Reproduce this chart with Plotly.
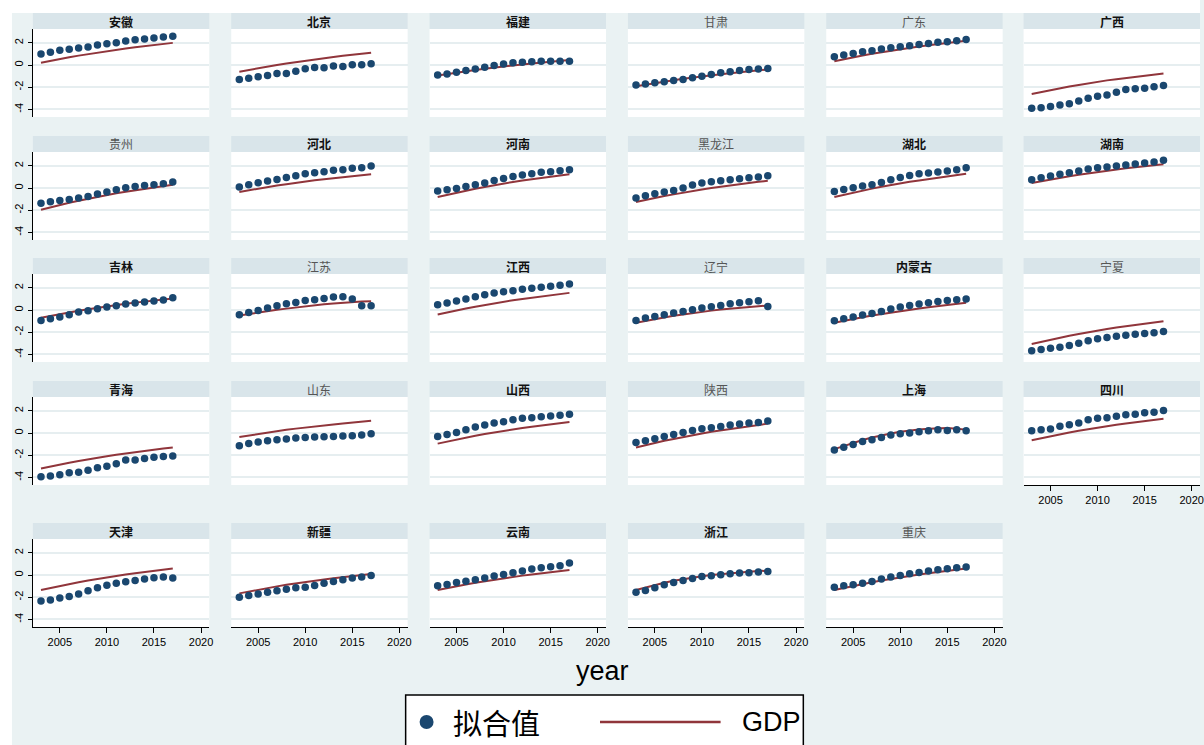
import plotly.graph_objects as go

# ---------------------------------------------------------------- data
years = [2003, 2004, 2005, 2006, 2007, 2008, 2009, 2010,
         2011, 2012, 2013, 2014, 2015, 2016, 2017]

provinces = ["安徽", "北京", "福建", "甘肃", "广东", "广西",
             "贵州", "河北", "河南", "黑龙江", "湖北", "湖南",
             "吉林", "江苏", "江西", "辽宁", "内蒙古", "宁夏",
             "青海", "山东", "山西", "陕西", "上海", "四川",
             "天津", "新疆", "云南", "浙江", "重庆"]

x_ticks = [2005, 2010, 2015, 2020]
y_ticks = [-4, -2, 0, 2]
y_tick_text = ["-4", "-2", "0", "2"]

legend_fit = "拟合值"
legend_gdp = "GDP"
x_title = "year"

# fitted values (dots) and GDP (line), one pair per province
anhui_fit = [1.0, 1.15, 1.33, 1.42, 1.54, 1.63, 1.81, 1.93, 2.02, 2.17, 2.29, 2.35, 2.44, 2.53, 2.59]
anhui_gdp = [0.2, 0.38, 0.54, 0.70, 0.85, 0.99, 1.14, 1.26, 1.39, 1.50, 1.60, 1.71, 1.80, 1.91, 2.0]
beijing_fit = [-1.30, -1.18, -1.06, -0.94, -0.76, -0.76, -0.55, -0.33, -0.21, -0.24, -0.09, -0.12, 0.03, 0.03, 0.12]
beijing_gdp = [-0.6, -0.43, -0.28, -0.12, 0.01, 0.15, 0.28, 0.40, 0.52, 0.62, 0.73, 0.83, 0.91, 1.02, 1.1]
fujian_fit = [-0.9, -0.8, -0.65, -0.5, -0.35, -0.2, -0.05, 0.1, 0.2, 0.25, 0.3, 0.35, 0.35, 0.35, 0.35]
fujian_gdp = [-0.95, -0.81, -0.68, -0.56, -0.45, -0.33, -0.22, -0.12, -0.03, 0.06, 0.14, 0.23, 0.30, 0.38, 0.45]
gansu_fit = [-1.8, -1.7, -1.6, -1.5, -1.4, -1.3, -1.15, -1.0, -0.85, -0.7, -0.6, -0.5, -0.4, -0.35, -0.3]
gansu_gdp = [-1.9, -1.75, -1.62, -1.48, -1.36, -1.24, -1.12, -1.02, -0.91, -0.82, -0.73, -0.64, -0.57, -0.48, -0.4]
guangdong_fit = [0.75, 0.9, 1.05, 1.2, 1.3, 1.45, 1.55, 1.65, 1.75, 1.85, 1.95, 2.05, 2.1, 2.2, 2.3]
guangdong_gdp = [0.35, 0.54, 0.70, 0.87, 1.02, 1.16, 1.31, 1.44, 1.57, 1.68, 1.79, 1.90, 2.00, 2.11, 2.2]
guangxi_fit = [-3.9, -3.85, -3.73, -3.6, -3.48, -3.24, -3.0, -2.82, -2.7, -2.45, -2.2, -2.14, -2.08, -1.96, -1.84]
guangxi_gdp = [-2.6, -2.42, -2.25, -2.08, -1.93, -1.79, -1.64, -1.51, -1.38, -1.27, -1.16, -1.05, -0.95, -0.84, -0.75]
guizhou_fit = [-1.36, -1.24, -1.11, -1.02, -0.9, -0.75, -0.54, -0.36, -0.15, 0.03, 0.15, 0.24, 0.30, 0.39, 0.54]
guizhou_gdp = [-1.95, -1.73, -1.52, -1.32, -1.14, -0.96, -0.78, -0.62, -0.47, -0.33, -0.2, -0.06, 0.05, 0.19, 0.3]
hebei_fit = [0.09, 0.3, 0.48, 0.63, 0.78, 0.96, 1.11, 1.3, 1.39, 1.48, 1.6, 1.66, 1.78, 1.84, 1.99]
hebei_gdp = [-0.35, -0.19, -0.05, 0.10, 0.23, 0.35, 0.48, 0.59, 0.71, 0.80, 0.90, 0.99, 1.07, 1.17, 1.25]
henan_fit = [-0.27, -0.15, -0.03, 0.15, 0.3, 0.45, 0.69, 0.87, 1.05, 1.17, 1.3, 1.42, 1.48, 1.57, 1.66]
henan_gdp = [-0.8, -0.6, -0.41, -0.23, -0.06, 0.10, 0.27, 0.41, 0.55, 0.68, 0.80, 0.92, 1.02, 1.15, 1.25]
heilongjiang_fit = [-0.9, -0.69, -0.51, -0.36, -0.21, 0.0, 0.27, 0.45, 0.57, 0.66, 0.75, 0.84, 0.93, 0.99, 1.11]
heilongjiang_gdp = [-1.25, -1.06, -0.89, -0.72, -0.57, -0.41, -0.26, -0.13, 0.0, 0.12, 0.23, 0.35, 0.44, 0.56, 0.65]
hubei_fit = [-0.3, -0.12, 0.03, 0.18, 0.3, 0.51, 0.75, 0.96, 1.14, 1.3, 1.36, 1.45, 1.54, 1.66, 1.84]
hubei_gdp = [-0.8, -0.6, -0.41, -0.22, -0.05, 0.11, 0.28, 0.42, 0.57, 0.69, 0.82, 0.94, 1.05, 1.17, 1.28]
hunan_fit = [0.75, 0.93, 1.08, 1.24, 1.39, 1.54, 1.72, 1.84, 1.9, 1.99, 2.08, 2.17, 2.26, 2.35, 2.5]
hunan_gdp = [0.45, 0.62, 0.77, 0.93, 1.06, 1.20, 1.33, 1.45, 1.57, 1.67, 1.78, 1.88, 1.96, 2.07, 2.15]
jilin_fit = [-0.93, -0.78, -0.63, -0.42, -0.18, -0.06, 0.12, 0.27, 0.39, 0.54, 0.63, 0.72, 0.81, 0.9, 1.11]
jilin_gdp = [-0.7, -0.53, -0.37, -0.21, -0.07, 0.07, 0.21, 0.33, 0.46, 0.56, 0.67, 0.77, 0.86, 0.96, 1.05]
jiangsu_fit = [-0.42, -0.21, -0.03, 0.18, 0.39, 0.57, 0.69, 0.87, 0.93, 1.05, 1.17, 1.2, 0.99, 0.39, 0.39]
jiangsu_gdp = [-0.5, -0.36, -0.23, -0.1, 0.02, 0.13, 0.24, 0.34, 0.43, 0.52, 0.6, 0.67, 0.72, 0.77, 0.8]
jiangxi_fit = [0.48, 0.63, 0.81, 0.99, 1.2, 1.39, 1.54, 1.66, 1.75, 1.87, 1.96, 2.05, 2.14, 2.23, 2.35]
jiangxi_gdp = [-0.4, -0.2, -0.03, 0.15, 0.30, 0.46, 0.61, 0.75, 0.89, 1.0, 1.12, 1.24, 1.34, 1.45, 1.55]
liaoning_fit = [-0.93, -0.72, -0.57, -0.42, -0.27, -0.12, 0.03, 0.18, 0.3, 0.42, 0.57, 0.66, 0.75, 0.84, 0.33]
liaoning_gdp = [-1.15, -0.98, -0.82, -0.66, -0.52, -0.39, -0.26, -0.15, -0.05, 0.05, 0.14, 0.22, 0.29, 0.35, 0.4]
neimenggu_fit = [-0.96, -0.78, -0.63, -0.45, -0.3, -0.12, 0.09, 0.27, 0.42, 0.54, 0.66, 0.78, 0.87, 0.93, 0.99]
neimenggu_gdp = [-1.15, -0.97, -0.81, -0.65, -0.5, -0.36, -0.21, -0.09, 0.04, 0.15, 0.25, 0.36, 0.45, 0.56, 0.65]
ningxia_fit = [-3.67, -3.55, -3.43, -3.34, -3.19, -2.98, -2.77, -2.59, -2.47, -2.35, -2.26, -2.17, -2.11, -2.05, -1.93]
ningxia_gdp = [-3.05, -2.85, -2.66, -2.48, -2.31, -2.15, -1.98, -1.84, -1.70, -1.57, -1.45, -1.33, -1.23, -1.10, -1.0]
qinghai_fit = [-3.94, -3.88, -3.76, -3.58, -3.52, -3.36, -3.12, -3.0, -2.76, -2.42, -2.42, -2.3, -2.18, -2.12, -2.06]
qinghai_gdp = [-3.2, -3.01, -2.84, -2.67, -2.52, -2.36, -2.21, -2.08, -1.95, -1.83, -1.72, -1.60, -1.51, -1.40, -1.3]
shandong_fit = [-1.14, -0.93, -0.81, -0.69, -0.6, -0.54, -0.45, -0.39, -0.36, -0.33, -0.3, -0.27, -0.24, -0.18, -0.06]
shandong_gdp = [-0.35, -0.21, -0.07, 0.06, 0.17, 0.29, 0.40, 0.51, 0.61, 0.69, 0.78, 0.87, 0.94, 1.03, 1.1]
shanxi_fit = [-0.3, -0.12, 0.06, 0.3, 0.54, 0.72, 0.9, 1.02, 1.2, 1.33, 1.39, 1.48, 1.54, 1.6, 1.69]
shanxi_gdp = [-0.95, -0.76, -0.58, -0.40, -0.25, -0.09, 0.06, 0.2, 0.34, 0.45, 0.57, 0.69, 0.79, 0.90, 1.0]
shaanxi_fit = [-0.84, -0.69, -0.51, -0.3, -0.12, 0.06, 0.24, 0.39, 0.48, 0.6, 0.72, 0.81, 0.9, 0.96, 1.08]
shaanxi_gdp = [-1.3, -1.09, -0.89, -0.70, -0.53, -0.35, -0.18, -0.03, 0.12, 0.25, 0.38, 0.51, 0.61, 0.74, 0.85]
shanghai_fit = [-1.52, -1.27, -1.03, -0.76, -0.61, -0.39, -0.18, -0.06, 0.0, 0.12, 0.21, 0.3, 0.24, 0.3, 0.21]
shanghai_gdp = [-1.45, -1.15, -0.87, -0.62, -0.4, -0.2, -0.03, 0.12, 0.24, 0.33, 0.4, 0.44, 0.45, 0.4, 0.3]
sichuan_fit = [0.21, 0.3, 0.36, 0.61, 0.76, 0.91, 1.21, 1.33, 1.39, 1.52, 1.64, 1.7, 1.82, 1.88, 2.03]
sichuan_gdp = [-0.65, -0.46, -0.28, -0.10, 0.05, 0.21, 0.36, 0.5, 0.64, 0.75, 0.87, 0.99, 1.09, 1.20, 1.3]
tianjin_fit = [-2.33, -2.24, -2.06, -1.94, -1.7, -1.42, -1.15, -0.91, -0.73, -0.61, -0.48, -0.36, -0.24, -0.18, -0.27]
tianjin_gdp = [-1.35, -1.16, -0.98, -0.80, -0.65, -0.49, -0.34, -0.2, -0.06, 0.05, 0.17, 0.29, 0.39, 0.50, 0.6]
xinjiang_fit = [-2.0, -1.85, -1.7, -1.55, -1.42, -1.27, -1.15, -1.09, -0.94, -0.73, -0.58, -0.42, -0.27, -0.18, -0.03]
xinjiang_gdp = [-1.65, -1.48, -1.32, -1.16, -1.02, -0.88, -0.74, -0.62, -0.5, -0.39, -0.29, -0.18, -0.09, 0.01, 0.1]
yunnan_fit = [-0.97, -0.85, -0.67, -0.55, -0.42, -0.27, -0.09, 0.06, 0.21, 0.36, 0.55, 0.67, 0.76, 0.85, 1.09]
yunnan_gdp = [-1.35, -1.17, -1.01, -0.85, -0.7, -0.56, -0.41, -0.29, -0.16, -0.05, 0.05, 0.16, 0.25, 0.36, 0.45]
zhejiang_fit = [-1.55, -1.39, -1.15, -0.88, -0.67, -0.48, -0.3, -0.12, -0.06, 0.03, 0.12, 0.18, 0.21, 0.27, 0.33]
zhejiang_gdp = [-1.35, -1.12, -0.9, -0.7, -0.52, -0.36, -0.22, -0.1, 0.0, 0.09, 0.17, 0.24, 0.3, 0.36, 0.4]
chongqing_fit = [-1.09, -0.97, -0.88, -0.73, -0.58, -0.36, -0.18, -0.03, 0.12, 0.24, 0.36, 0.48, 0.58, 0.67, 0.73]
chongqing_gdp = [-1.35, -1.16, -0.98, -0.80, -0.65, -0.49, -0.34, -0.2, -0.06, 0.05, 0.17, 0.29, 0.39, 0.50, 0.6]

fit_series = [anhui_fit, beijing_fit, fujian_fit, gansu_fit, guangdong_fit, guangxi_fit,
              guizhou_fit, hebei_fit, henan_fit, heilongjiang_fit, hubei_fit, hunan_fit,
              jilin_fit, jiangsu_fit, jiangxi_fit, liaoning_fit, neimenggu_fit, ningxia_fit,
              qinghai_fit, shandong_fit, shanxi_fit, shaanxi_fit, shanghai_fit, sichuan_fit,
              tianjin_fit, xinjiang_fit, yunnan_fit, zhejiang_fit, chongqing_fit]
gdp_series = [anhui_gdp, beijing_gdp, fujian_gdp, gansu_gdp, guangdong_gdp, guangxi_gdp,
              guizhou_gdp, hebei_gdp, henan_gdp, heilongjiang_gdp, hubei_gdp, hunan_gdp,
              jilin_gdp, jiangsu_gdp, jiangxi_gdp, liaoning_gdp, neimenggu_gdp, ningxia_gdp,
              qinghai_gdp, shandong_gdp, shanxi_gdp, shaanxi_gdp, shanghai_gdp, sichuan_gdp,
              tianjin_gdp, xinjiang_gdp, yunnan_gdp, zhejiang_gdp, chongqing_gdp]

# ---------------------------------------------------------------- style
W, H = 1204, 745
NAVY = "#1A476F"
MAROON = "#90353B"
BG = "#EAF2F3"
STRIP = "#D9E5EA"
GRID = "#E6EEF0"
TICK_FONT = dict(family="Liberation Sans, Arial, sans-serif", size=11, color="black")
CJK = "Noto Sans CJK SC, sans-serif"

# strip titles drawn in the lighter face
light_titles = {"甘肃", "广东", "贵州", "黑龙江", "江苏", "辽宁", "宁夏", "山东", "陕西", "重庆"}

# panel geometry in pixels
col_left = [33, 232, 431, 630, 829, 1027]
panel_w = 177
row_top = [29, 152, 274, 397, 539]
panel_h = 88
strip_h = 16
x_range = [2002.14, 2020.88]
y_range = [-4.68, 3.25]


def px(x):
    return x / W


def py(y):
    return 1 - y / H


fig = go.Figure()
layout = {}
shapes = [
    # white outer border on the left and top of the graph region
    dict(type="rect", xref="paper", yref="paper", x0=0, x1=px(12), y0=0, y1=1,
         fillcolor="white", line_width=0, layer="below"),
    dict(type="rect", xref="paper", yref="paper", x0=0, x1=1, y0=py(13), y1=1,
         fillcolor="white", line_width=0, layer="below"),
]
annotations = []

for i, name in enumerate(provinces):
    r, c = divmod(i, 6)
    n = i + 1
    sfx = "" if n == 1 else str(n)
    L, T = col_left[c], row_top[r]
    xdom = [px(L), min(px(L + panel_w), 1.0)]
    ydom = [py(T + panel_h), py(T)]
    bottom = (r == 4) or (r == 3 and c == 5)
    left = c == 0

    layout["xaxis" + sfx] = dict(
        domain=xdom, anchor="y" + sfx, range=x_range, tickvals=x_ticks,
        showgrid=False, zeroline=False, showticklabels=bottom,
        ticks="outside" if bottom else "", ticklen=5, tickcolor="black",
        showline=bottom, linecolor="black", linewidth=1, tickfont=TICK_FONT,
        fixedrange=True)
    layout["yaxis" + sfx] = dict(
        domain=ydom, anchor="x" + sfx, range=y_range, tickvals=y_ticks,
        ticktext=y_tick_text, showgrid=True, gridcolor=GRID, gridwidth=1.5,
        zeroline=False, showticklabels=left, ticks="outside" if left else "",
        ticklen=4, tickcolor="black", tickangle=-90, showline=left,
        linecolor="black", linewidth=1, tickfont=TICK_FONT, fixedrange=True)

    fig.add_trace(go.Scatter(
        x=years, y=gdp_series[i], mode="lines", name=legend_gdp,
        line=dict(color=MAROON, width=2), showlegend=False,
        xaxis="x" + sfx, yaxis="y" + sfx))
    fig.add_trace(go.Scatter(
        x=years, y=fit_series[i], mode="markers", name=legend_fit,
        marker=dict(color=NAVY, size=7.5, line=dict(width=0)), showlegend=False,
        xaxis="x" + sfx, yaxis="y" + sfx))

    # strip header with the province name
    shapes.append(dict(type="rect", xref="paper", yref="paper",
                       x0=xdom[0], x1=xdom[1], y0=py(T), y1=py(T - strip_h),
                       fillcolor=STRIP, line_width=0, layer="below"))
    light = name in light_titles
    annotations.append(dict(
        text=name, xref="paper", yref="paper",
        x=px(L + panel_w / 2), y=py(T - strip_h / 2),
        xanchor="center", yanchor="middle", showarrow=False,
        font=dict(family=CJK, size=12, color="#555555" if light else "#111111",
                  weight="normal" if light else "bold")))

# x-axis title
annotations.append(dict(text=x_title, xref="paper", yref="paper",
                        x=px(605), y=py(671), xanchor="center", yanchor="middle",
                        showarrow=False,
                        font=dict(family="Liberation Sans, Arial, sans-serif",
                                  size=27, color="black")))

# legend box
shapes.append(dict(type="rect", xref="paper", yref="paper",
                   x0=px(407), x1=px(806), y0=-0.05, y1=py(695),
                   fillcolor="white", line=dict(color="black", width=1.5)))
shapes.append(dict(type="circle", xref="paper", yref="paper",
                   x0=px(421), x1=px(435), y0=py(729), y1=py(715),
                   fillcolor=NAVY, line_width=0))
shapes.append(dict(type="line", xref="paper", yref="paper",
                   x0=px(602), x1=px(723), y0=py(722), y1=py(722),
                   line=dict(color=MAROON, width=2.5)))
annotations.append(dict(text=legend_fit, xref="paper", yref="paper",
                        x=px(453), y=py(722), xanchor="left", yanchor="middle",
                        showarrow=False, font=dict(family=CJK, size=29, color="black")))
annotations.append(dict(text=legend_gdp, xref="paper", yref="paper",
                        x=px(742), y=py(722), xanchor="left", yanchor="middle",
                        showarrow=False,
                        font=dict(family="Liberation Sans Narrow, Liberation Sans, Arial",
                                  size=27, color="black")))

fig.update_layout(
    width=W, height=H, autosize=False,
    margin=dict(l=0, r=0, t=0, b=0),
    paper_bgcolor=BG, plot_bgcolor="white",
    showlegend=False, shapes=shapes, annotations=annotations,
    **layout)

fig.write_html("out.html", config={"displayModeBar": False})
